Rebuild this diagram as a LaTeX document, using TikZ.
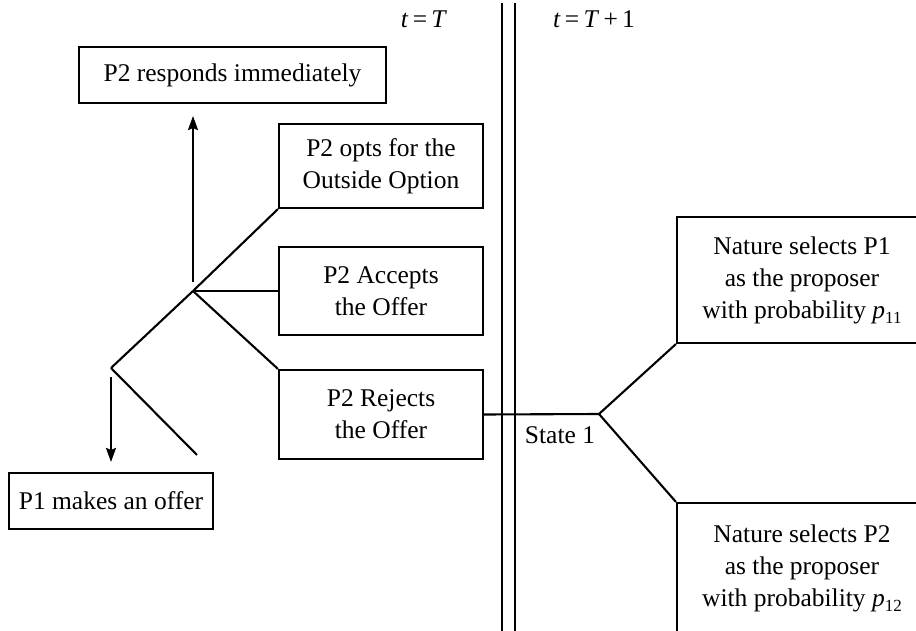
\documentclass[tikz,border=0pt]{standalone}
\usepackage{fontspec}
\setmainfont{Liberation Serif}
\usetikzlibrary{arrows.meta}
\newcommand{\subnum}[1]{\raisebox{-0.45ex}{\fontsize{17}{17}\selectfont #1}}
\begin{document}
\begin{tikzpicture}[x=1pt, y=-1pt,
  line width=2.1pt,
  font=\fontsize{25.5}{32}\selectfont,
  box/.style={draw, rectangle, inner sep=0pt, align=center},
  arr/.style={-{Stealth[length=14pt, width=10pt, inset=2pt]}}]
\useasboundingbox (0,0) rectangle (916,631);
\clip (0,0) rectangle (916,631);

% period labels and the boundary between periods
\node (tT) at (424,19) {\textit{t}\,=\,\textit{T}};
\node (tT1) at (594,19) {\textit{t}\,=\,\textit{T}\,+\,1};
\coordinate (wa1) at (502,3);  \coordinate (wa2) at (502,631);
\coordinate (wb1) at (515,3);  \coordinate (wb2) at (515,631);
\draw (wa1) -- (wa2);
\draw (wb1) -- (wb2);

% boxes
\node[box, minimum width=307pt, minimum height=56pt] (resp) at (232.5,75) {P2 responds immediately};
\node[box, minimum width=204pt, minimum height=84pt] (outside) at (381,166) {P2 opts for the\\Outside Option};
\node[box, minimum width=204pt, minimum height=88pt] (accept) at (381,291) {P2 Accepts\\the Offer};
\node[box, minimum width=204pt, minimum height=89pt] (reject) at (381,414.5) {P2 Rejects\\the Offer};
\node[box, minimum width=204pt, minimum height=56pt] (p1) at (111,501) {P1 makes an offer};
\node[box, minimum width=250pt, minimum height=126pt] (nat1) at (802,280)
  {Nature selects P1\\as the proposer\\with probability \textit{p}\subnum{11}};
\node[box, minimum width=250pt, minimum height=130pt] (nat2) at (802,568)
  {Nature selects P2\\as the proposer\\with probability \textit{p}\subnum{12}};

% decision points
\coordinate (j1) at (193,291);
\coordinate (j0) at (111,368);
\coordinate (cut) at (197,455);
\coordinate (state) at (599,414);
\coordinate (upstart) at (193,282);
\coordinate (downstart) at (111,377);

% tree branches
\draw (j0) -- (j1);
\draw (j0) -- (cut);
\draw (j1) -- (outside.south west);
\draw (j1) -- (accept.west);
\draw (j1) -- (reject.north west);
\draw[arr, shorten >=12pt] (upstart) -- (resp.south -| upstart);
\draw[arr, shorten >=10pt] (downstart) -- (p1.north);

% transition to the next period
\draw (reject.east) -- (state);
\draw (state) -- (nat1.south west);
\draw (state) -- (nat2.north west);
\node (s1) at (560,435) {State 1};
\end{tikzpicture}
\end{document}
